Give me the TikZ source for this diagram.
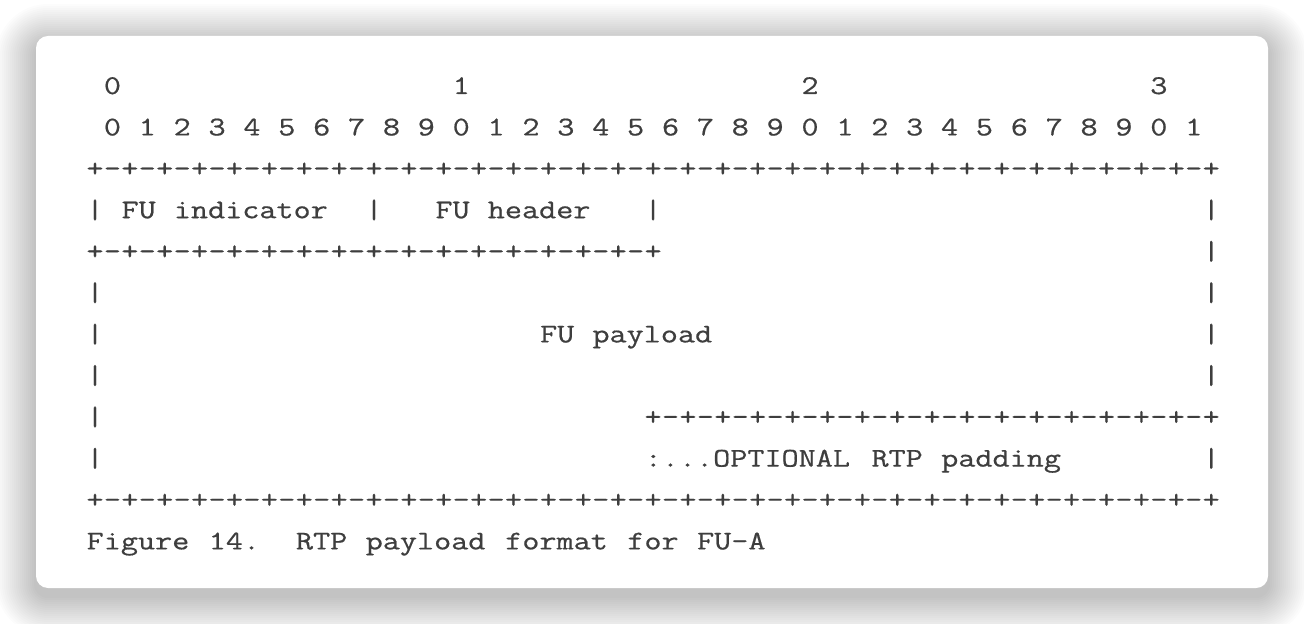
\documentclass[tikz,border=0pt]{standalone}
\usepackage{fontspec}
\newfontfamily\rfcfont[FakeStretch=1.23, FakeBold=0.6]{Latin Modern Mono}
\definecolor{rfcgray}{HTML}{3E3E3E}

% column centre, column left edge and row baseline, in pixels
\newcommand{\colx}[1]{95+17.44*(#1)}
\newcommand{\colw}[1]{86.28+17.44*(#1)}
\newcommand{\rowy}[1]{94+41.4*(#1)}

\tikzset{
  glyph/.style={inner sep=0pt, anchor=base, text=rfcgray,
    font=\rfcfont\fontsize{13.5}{16}\selectfont},
  word/.style={glyph, anchor=base west},
}

\begin{document}
\begin{tikzpicture}[x=0.5pt, y=-0.5pt]
  \useasboundingbox (0,0) rectangle (1304,624);
  \fill[white] (0,0) rectangle (1304,624);

  % card and its soft shadow
  \foreach \k in {1,...,20}
    \fill[black, opacity=0.011, rounded corners=6pt+\k pt]
      ({36-2*\k},{44-2*\k}) rectangle ({1268+2*\k},{596+2*\k});
  \fill[white, rounded corners=6pt] (36,36) rectangle (1268,588);

  % bit numbers
  \foreach \d [count=\i from 0] in {0,1,2,3}
    \node[glyph] (tens\i) at ({\colx{1+20*\i}},{\rowy{0}}) {\d};
  \foreach \b [evaluate=\b as \d using {int(mod(\b,10))}] in {0,...,31}
    \node[glyph] (bit\b) at ({\colx{2*\b+1}},{\rowy{1}}) {\d};

  % +-+-+ borders
  \foreach \r/\a/\b in {2/0/64, 4/0/32, 8/32/64, 10/0/64}
    \foreach \c in {\a,...,\b}
      \node[glyph] (edge-\r-\c) at ({\colx{\c}},{\rowy{\r}})
        {\ifodd\c\relax-\else+\fi};

  % side walls
  \foreach \r in {3,5,6,7,8,9}
    \node[glyph] (left\r) at ({\colx{0}},{\rowy{\r}}) {|};
  \foreach \r in {3,4,5,6,7,9}
    \node[glyph] (right\r) at ({\colx{64}},{\rowy{\r}}) {|};
  \node[glyph] (sep1) at ({\colx{16}},{\rowy{3}}) {|};
  \node[glyph] (sep2) at ({\colx{32}},{\rowy{3}}) {|};

  % field names
  \node[word] (fuind) at ({\colw{2}},{\rowy{3}}) {FU};
  \node[word] (ind) at ({\colw{5}},{\rowy{3}}) {indicator};
  \node[word] (fuhdr) at ({\colw{20}},{\rowy{3}}) {FU};
  \node[word] (hdr) at ({\colw{23}},{\rowy{3}}) {header};
  \node[word] (fupay) at ({\colw{26}},{\rowy{6}}) {FU};
  \node[word] (pay) at ({\colw{29}},{\rowy{6}}) {payload};
  \node[word] (opt) at ({\colw{32}},{\rowy{9}}) {:...OPTIONAL};
  \node[word] (rtp) at ({\colw{45}},{\rowy{9}}) {RTP};
  \node[word] (pad) at ({\colw{49}},{\rowy{9}}) {padding};

  % caption
  \foreach \w/\c in {Figure/0, 14./7, RTP/12, payload/16, format/24, for/31, FU-A/35}
    \node[word] (cap\c) at ({\colw{\c}},{\rowy{11}}) {\w};
\end{tikzpicture}
\end{document}
